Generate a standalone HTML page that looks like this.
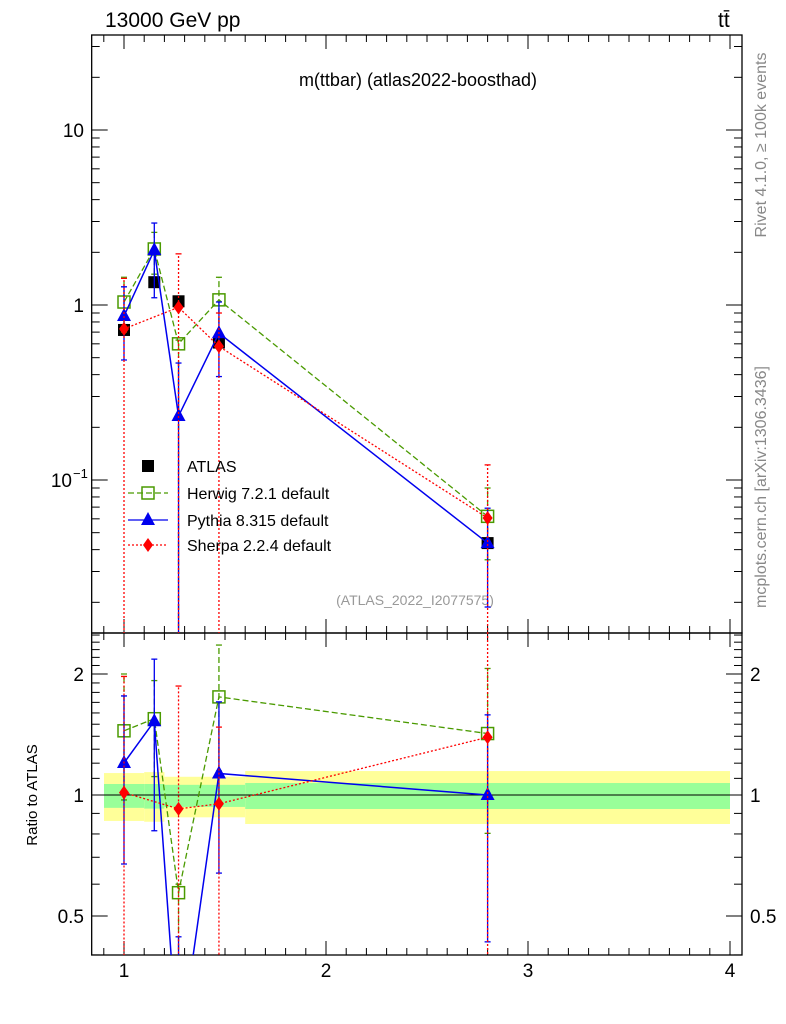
<!DOCTYPE html>
<html><head><meta charset="utf-8"><style>
html,body{margin:0;background:#fff;overflow:hidden;width:786px;height:1024px;}
svg{display:block;font-family:"Liberation Sans","DejaVu Sans",sans-serif;}
</style></head><body>
<svg id="c" width="786" height="1024" viewBox="0 0 786 1024">
<text x="105" y="27" font-size="21">13000 GeV pp</text>
<text x="718" y="27" font-size="21">tt̄</text>
<text x="418" y="86" font-size="18" text-anchor="middle">m(ttbar) (atlas2022-boosthad)</text>
<text x="415" y="605" font-size="14" fill="#999" text-anchor="middle">(ATLAS_2022_I2077575)</text>
<text transform="translate(766,145) rotate(-90)" font-size="16" fill="#888" text-anchor="middle">Rivet 4.1.0, ≥ 100k events</text>
<text transform="translate(766,487) rotate(-90)" font-size="16" fill="#888" text-anchor="middle">mcplots.cern.ch [arXiv:1306.3436]</text>
<text transform="translate(37,795) rotate(-90)" font-size="15" text-anchor="middle">Ratio to ATLAS</text>
</svg>
<script>
const xs=[1.0,1.15,1.27,1.47,2.8];
const atlas=[0.72,1.35,1.05,0.61,0.0436];
const atlasLo=[0.70,1.28,1.0,0.58,0.042];
const atlasHi=[0.74,1.42,1.1,0.64,0.0452];
const herwig=[1.04,2.09,0.60,1.07,0.062];
const herwigLo=[0.70,1.5,0.01,0.70,0.035];
const herwigHi=[1.44,2.6,0.63,1.44,0.09];
const pythia=[0.865,2.06,0.232,0.69,0.0436];
const pythiaLo=[0.485,1.1,0.001,0.39,0.0188];
const pythiaHi=[1.27,2.94,0.466,1.04,0.069];
const sherpaX=[1.0,1.27,1.47,2.8];
const sherpa=[0.73,0.97,0.58,0.0607];
const sherpaLo=[0.001,0.001,0.001,0.001];
const sherpaHi=[1.42,1.96,0.9,0.122];
const bandEdges=[0.9,1.1,1.2,1.6,4.0];
const bandYelLo=[0.862,0.858,0.88,0.847];
const bandYelHi=[1.134,1.14,1.11,1.147];
const bandGrnLo=[0.929,0.925,0.934,0.923];
const bandGrnHi=[1.065,1.065,1.06,1.071];
const xTicks=[1,2,3,4];

const S="http://www.w3.org/2000/svg";
const svg=document.getElementById('c');
function mk(tag,a,p){const e=document.createElementNS(S,tag);for(const k in a)e.setAttribute(k,a[k]);(p||svg).appendChild(e);return e;}
const X=v=>124+(v-1)*202;
const L=124-0.16*202, R=742, T=35, M=633, B=955;
const Y=v=>305-Math.log10(v)*175;
const YR=v=>795-Math.log10(v)/0.30103*121;

// ratio bands
for(let i=0;i<4;i++){
 const x0=Math.max(X(bandEdges[i]),104),x1=Math.min(X(bandEdges[i+1]),730);
 const r1=mk('rect',{x:x0,y:YR(bandYelHi[i]),width:x1-x0,height:YR(bandYelLo[i])-YR(bandYelHi[i]),fill:'#ffff99'});
 
 
 const r2=mk('rect',{x:x0,y:YR(bandGrnHi[i]),width:x1-x0,height:YR(bandGrnLo[i])-YR(bandGrnHi[i]),fill:'#99ff99'});
 
 
}
const ref=mk('line',{x1:L,x2:R,y1:YR(1),y2:YR(1),stroke:'#000','stroke-width':1});



const f1=mk('rect',{x:L,y:T,width:R-L,height:M-T,fill:'none',stroke:'#000','stroke-width':1.3});


const f2=mk('rect',{x:L,y:M,width:R-L,height:B-M,fill:'none',stroke:'#000','stroke-width':1.3});



for(let d=-2;d<=1;d++)for(let m=1;m<=9;m++){
 const v=m*Math.pow(10,d),y=Y(v);if(y<T||y>M)continue;
 const len=m==1?16:8;
 const t1=mk('line',{x1:L,x2:L+len,y1:y,y2:y,stroke:'#000'});
 
 
 const t2=mk('line',{x1:R,x2:R-len,y1:y,y2:y,stroke:'#000'});
 
 
}
const yl1=mk('text',{x:84,y:Y(10)+7,'font-size':19,'text-anchor':'end'});yl1.textContent='10';


const yl2=mk('text',{x:84,y:Y(1)+7,'font-size':19,'text-anchor':'end'});yl2.textContent='1';


const yl3=mk('text',{x:72,y:Y(0.1)+7,'font-size':19,'text-anchor':'end'});yl3.textContent='10';


const yl4=mk('text',{x:73,y:Y(0.1)-2,'font-size':13});yl4.textContent='−1';



const rt=[0.4,0.5,0.6,0.7,0.8,0.9,1,1.1,1.2,1.3,1.4,1.5,1.6,1.7,1.8,1.9,2,2.1,2.2,2.3,2.4,2.5];
rt.forEach(v=>{const y=YR(v);if(y<M||y>B)return;const major=(v==0.5||v==1||v==2);const len=major?16:8;
 const a=mk('line',{x1:L,x2:L+len,y1:y,y2:y,stroke:'#000'});
 
 
 const b=mk('line',{x1:R,x2:R-len,y1:y,y2:y,stroke:'#000'});
 
 
 if(major){const s=String(v);
  const t=mk('text',{x:84,y:y+7,'font-size':19,'text-anchor':'end'});t.textContent=s;
  
  
  const t2=mk('text',{x:750,y:y+7,'font-size':19});t2.textContent=s;
  
  }
});

for(let v=0.9;v<=4.05;v+=0.1){const vv=Math.round(v*10)/10,x=X(vv);if(x<L||x>R)continue;
 const major=Math.abs(vv-Math.round(vv))<1e-6;const len=major?14:7;
 [[M,-1],[T,1],[B,-1],[M,1]].forEach(([y0,dir])=>{
  const t=mk('line',{x1:x,x2:x,y1:y0,y2:y0+dir*len,stroke:'#000'});
  
  
 });
}
xTicks.forEach(v=>{const t=mk('text',{x:X(v),y:977,'font-size':19,'text-anchor':'middle'});t.textContent=String(v);
 
 });

const defs=mk('defs',{});
const c1=mk('clipPath',{id:'cm'},defs);mk('rect',{x:L,y:T,width:R-L,height:M-T},c1);
const c2=mk('clipPath',{id:'cr'},defs);mk('rect',{x:L,y:M,width:R-L,height:B-M},c2);
const gm=mk('g',{'clip-path':'url(#cm)'});


const gr=mk('g',{'clip-path':'url(#cr)'});



function marker(g,type,x,y,col){
 let e;
 if(type=='sq')e=mk('rect',{x:x-6,y:y-6,width:12,height:12,fill:'#000'},g);
 else if(type=='osq')e=mk('rect',{x:x-6,y:y-6,width:12,height:12,fill:'none',stroke:col,'stroke-width':1.5},g);
 else if(type=='tri')e=mk('polygon',{points:`${x},${y-8} ${x-7},${y+5} ${x+7},${y+5}`,fill:col},g);
 else e=mk('polygon',{points:`${x},${y-7} ${x-5},${y} ${x},${y+7} ${x+5},${y}`,fill:col},g);
 return e;
}
function series(name,xv,vals,lo,hi,col,dash,type,w){
 const panels=name=='atlas'?[[gm,Y]]:[[gm,Y],[gr,YR]];
 panels.forEach(([g,F],pi)=>{
  const pts=[];
  xv.forEach((x,i)=>{
   const ai=xs.indexOf(x);const den=pi?atlas[ai]:1;
   const px=X(x),py=F(vals[i]/den);
   const eb=mk('line',{x1:px,x2:px,y1:F(lo[i]/den),y2:F(hi[i]/den),stroke:col,'stroke-width':1.3,'stroke-dasharray':dash},g);
   
   
   [lo[i],hi[i]].forEach(v=>{const c=mk('line',{x1:px-3,x2:px+3,y1:F(v/den),y2:F(v/den),stroke:col,'stroke-width':1.3},g);
    
    });
   pts.push(px+','+py);
  });
  if(name!='atlas'){const pl=mk('polyline',{points:pts.join(' '),fill:'none',stroke:col,'stroke-width':w,'stroke-dasharray':dash},g);
   
   }
  xv.forEach((x,i)=>{const ai=xs.indexOf(x);const den=pi?atlas[ai]:1;
   const m=marker(g,type,X(x),F(vals[i]/den),col);
   
   });
 });
}
series('atlas',xs,atlas,atlasLo,atlasHi,'#000','','sq',1);
series('herwig',xs,herwig,herwigLo,herwigHi,'#4a9a00','6,3','osq',1.3);
series('pythia',xs,pythia,pythiaLo,pythiaHi,'#0000ee','','tri',1.5);
series('sherpa',sherpaX,sherpa,sherpaLo,sherpaHi,'#ff0000','2,2','dia',1.3);

const leg=[['atlas','ATLAS','#000','','sq',466],['herwig','Herwig 7.2.1 default','#4a9a00','6,3','osq',493],['pythia','Pythia 8.315 default','#0000ee','','tri',520],['sherpa','Sherpa 2.2.4 default','#ff0000','2,2','dia',545]];
leg.forEach(([n,lab,col,dash,type,y])=>{
 if(n!='atlas'){const l=mk('line',{x1:128,x2:168,y1:y,y2:y,stroke:col,'stroke-width':1.3,'stroke-dasharray':dash});
  
  }
 const m=marker(svg,type,148,y,col);
 
 
 const t=mk('text',{x:187,y:y+6,'font-size':16});t.textContent=lab;
 
 
});
</script>
</body></html>
